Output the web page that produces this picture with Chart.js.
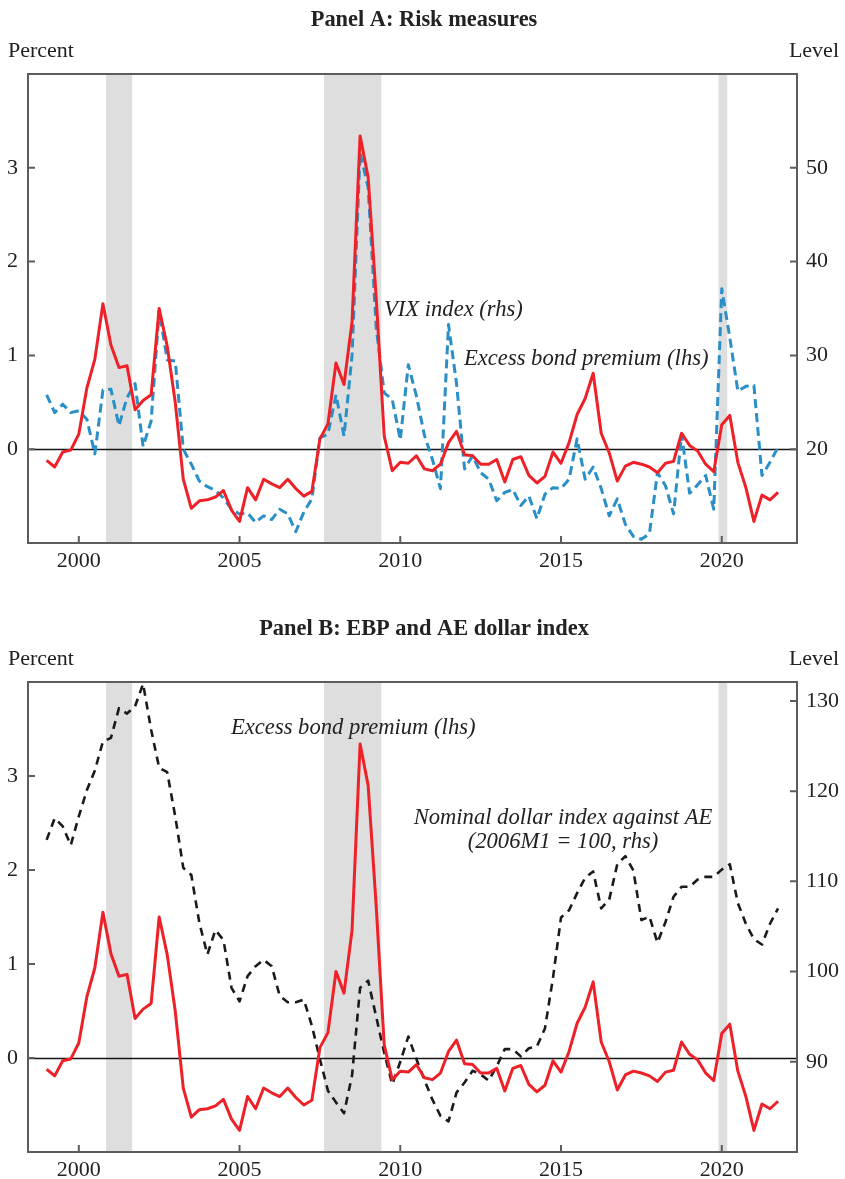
<!DOCTYPE html>
<html>
<head>
<meta charset="utf-8">
<title>Risk measures, EBP and AE dollar index</title>
<script src="https://cdn.jsdelivr.net/npm/chart.js@4.4.1/dist/chart.umd.min.js"></script>
<style>
  html, body { margin: 0; padding: 0; background: #fff; }
  #wrap { position: relative; width: 845px; height: 1179px; overflow: hidden; }
  canvas { position: absolute; left: 0; }
  #panelA { top: 0; }
  #panelB { top: 600px; }
</style>
</head>
<body>
<div id="wrap">
  <canvas id="panelA" width="845" height="590"></canvas>
  <canvas id="panelB" width="845" height="579"></canvas>
</div>
<script>
// ---- Quarterly observations, 1999Q1 to 2021Q4 ----
const firstYear = 1999;
const lastYear = 2021;

// Excess bond premium, percentage points
const ebp = [
  -0.12, -0.19, -0.03, -0.01,
   0.16,  0.65,  0.96,  1.55,
   1.11,  0.87,  0.89,  0.42,
   0.52,  0.58,  1.50,  1.10,
   0.50, -0.32, -0.63, -0.55,
  -0.54, -0.51, -0.44, -0.65,
  -0.77, -0.41, -0.54, -0.32,
  -0.37, -0.41, -0.32, -0.42,
  -0.50, -0.45,  0.11,  0.27,
   0.92,  0.69,  1.36,  3.34,
   2.90,  1.62,  0.14, -0.23,
  -0.14, -0.15, -0.07, -0.21,
  -0.23, -0.16,  0.07,  0.19,
  -0.06, -0.07, -0.16, -0.16,
  -0.11, -0.35, -0.11, -0.08,
  -0.28, -0.36, -0.29, -0.03,
  -0.15,  0.07,  0.37,  0.54,
   0.81,  0.17, -0.04, -0.34,
  -0.18, -0.14, -0.16, -0.19,
  -0.25, -0.15, -0.13,  0.17,
   0.04, -0.02, -0.16, -0.24,
   0.26,  0.36, -0.14, -0.41,
  -0.77, -0.49, -0.54, -0.46
];

// VIX index, level
const vix = [
  25.8, 23.9, 24.8, 23.9,
  24.1, 23.2, 19.5, 26.3,
  26.4, 22.5, 25.5, 27.0,
  20.3, 23.0, 34.8, 29.5,
  29.4, 20.0, 18.4, 16.6,
  16.0, 15.6, 14.8, 13.6,
  13.1, 13.2, 12.2, 12.9,
  12.5, 13.6, 13.1, 11.2,
  13.3, 14.7, 21.2, 21.6,
  25.8, 21.4, 30.0, 51.6,
  47.9, 33.0, 26.0, 25.3,
  21.0, 29.0, 25.7, 21.5,
  18.9, 15.8, 33.3, 27.0,
  17.9, 19.3, 17.5, 16.8,
  14.5, 15.4, 15.7, 14.0,
  15.0, 12.6, 15.2, 15.9,
  15.8, 16.8, 21.1, 16.8,
  18.1, 15.8, 12.9, 14.7,
  12.0, 10.7, 10.4, 11.0,
  17.5, 16.1, 13.1, 21.6,
  15.3, 16.2, 17.2, 13.6,
  37.1, 31.9, 26.2, 26.7,
  26.8, 17.2, 18.6, 20.2
];

// Nominal dollar index against advanced economies, 2006M1 = 100
const dollarAE = [
  114.6, 117.0, 116.1, 114.0,
  117.2, 120.1, 122.3, 125.5,
  125.9, 129.2, 128.6, 129.4,
  131.9, 126.8, 122.6, 122.1,
  117.2, 111.5, 110.7, 105.4,
  101.9, 104.6, 103.5,  98.2,
   96.7,  99.5, 100.6, 101.3,
  100.6,  97.3,  96.6,  96.6,
   96.9,  94.0,  90.3,  86.8,
   85.5,  84.3,  88.5,  98.2,
   99.0,  95.0,  91.0,  87.5,
   90.0,  92.8,  90.3,  88.0,
   85.8,  84.0,  83.4,  86.6,
   87.7,  89.0,  88.6,  87.9,
   89.5,  91.4,  91.4,  90.6,
   91.5,  91.7,  93.7,  99.3,
  106.0, 106.8, 108.7, 110.4,
  111.1, 107.0, 108.0, 111.9,
  112.8, 111.2, 105.7, 106.1,
  103.2, 105.5, 108.3, 109.4,
  109.4, 110.2, 110.5, 110.5,
  111.3, 111.9, 107.6, 105.3,
  103.6, 103.0, 105.3, 107.0
];

// Recession bands, decimal years [start, end]
const recessions = [
  [2000.85, 2001.66],
  [2007.63, 2009.41],
  [2019.90, 2020.17]
];

// Axis ticks
const yearTicks = [2000, 2005, 2010, 2015, 2020];
const pctTicks = [0, 1, 2, 3];
const vixTicks = [20, 30, 40, 50];
const dollarTicks = [90, 100, 110, 120, 130];

// Quarter dates as decimal years (Q1 = year.00, Q2 = year.25, ...)
const quarterDates = [];
for (let y = firstYear; y <= lastYear; y++) {
  for (let q = 0; q < 4; q++) quarterDates.push(y + q / 4);
}
const toPoints = (vals) => vals.map((v, i) => ({ x: quarterDates[i], y: v }));

// ---- Styling ----
const SERIF = "'Liberation Serif', 'Times New Roman', serif";
const RED = '#ee2129';
const BLUE = '#2a8fc6';
const BLACK = '#1a1a1a';
const FRAME = '#5c5c5c';
const SHADE = '#dedede';

// Recession shading, zero line, axis frame and inward tick marks
const framePlugin = {
  id: 'frame',
  beforeDatasetsDraw(chart) {
    const { ctx, chartArea: a, scales } = chart;
    ctx.save();
    ctx.fillStyle = SHADE;
    recessions.forEach(([s, e]) => {
      const x0 = scales.x.getPixelForValue(s);
      const x1 = scales.x.getPixelForValue(e);
      ctx.fillRect(x0, a.top, x1 - x0, a.bottom - a.top);
    });
    const y0 = Math.round(scales.yL.getPixelForValue(0)) + 0.5;
    ctx.strokeStyle = '#151515';
    ctx.lineWidth = 1.3;
    ctx.beginPath();
    ctx.moveTo(a.left, y0);
    ctx.lineTo(a.right, y0);
    ctx.stroke();
    ctx.restore();
  },
  afterDatasetsDraw(chart) {
    const { ctx, chartArea: a, scales } = chart;
    ctx.save();
    ctx.strokeStyle = FRAME;
    ctx.lineWidth = 2;
    ctx.strokeRect(a.left, a.top, a.right - a.left, a.bottom - a.top);
    const tl = 7;
    ctx.beginPath();
    scales.x.ticks.forEach(t => {
      const x = scales.x.getPixelForValue(t.value);
      ctx.moveTo(x, a.bottom);
      ctx.lineTo(x, a.bottom - tl);
    });
    scales.yL.ticks.forEach(t => {
      const y = scales.yL.getPixelForValue(t.value);
      ctx.moveTo(a.left, y);
      ctx.lineTo(a.left + tl, y);
    });
    scales.yR.ticks.forEach(t => {
      const y = scales.yR.getPixelForValue(t.value);
      ctx.moveTo(a.right, y);
      ctx.lineTo(a.right - tl, y);
    });
    ctx.stroke();
    ctx.restore();
  }
};

// Panel title, axis unit captions and series annotations
const textPlugin = {
  id: 'texts',
  afterDraw(chart, args, opts) {
    const { ctx } = chart;
    ctx.save();
    ctx.fillStyle = '#222';
    ctx.textBaseline = 'alphabetic';
    ctx.font = `bold 22.4px ${SERIF}`;
    ctx.textAlign = 'center';
    ctx.fillText(opts.title, 424, opts.titleY);
    ctx.font = `22px ${SERIF}`;
    ctx.textAlign = 'left';
    ctx.fillText('Percent', 8, opts.unitY);
    ctx.textAlign = 'right';
    ctx.fillText('Level', 839, opts.unitY);
    ctx.font = `italic 22.6px ${SERIF}`;
    opts.notes.forEach(n => {
      ctx.textAlign = n.align;
      ctx.fillText(n.text, n.x, n.y);
    });
    ctx.restore();
  }
};

function makeScales(rightMin, rightMax, rightTicks, xAxisHeight) {
  const tickFont = { family: SERIF, size: 22 };
  return {
    x: {
      type: 'linear',
      min: 1998.42,
      max: 2022.34,
      grid: { display: false, drawTicks: false },
      border: { display: false },
      afterBuildTicks: (s) => { s.ticks = yearTicks.map(v => ({ value: v })); },
      afterFit: (s) => { s.height = xAxisHeight; },
      ticks: { font: tickFont, color: '#222', padding: 5, autoSkip: false, maxRotation: 0,
               callback: (v) => String(v) }
    },
    yL: {
      type: 'linear',
      position: 'left',
      min: -1,
      max: 4,
      grid: { display: false, drawTicks: false },
      border: { display: false },
      afterBuildTicks: (s) => { s.ticks = pctTicks.map(v => ({ value: v })); },
      afterFit: (s) => { s.width = 28; },
      ticks: { font: tickFont, color: '#222', padding: 10, callback: (v) => String(v) }
    },
    yR: {
      type: 'linear',
      position: 'right',
      min: rightMin,
      max: rightMax,
      grid: { display: false, drawTicks: false },
      border: { display: false },
      afterBuildTicks: (s) => { s.ticks = rightTicks.map(v => ({ value: v })); },
      afterFit: (s) => { s.width = 48; },
      ticks: { font: tickFont, color: '#222', padding: 9, callback: (v) => String(v) }
    }
  };
}

const lineBase = { pointRadius: 0, pointHoverRadius: 0, tension: 0, fill: false,
                   borderJoinStyle: 'round', borderCapStyle: 'butt' };

// Panel A: Risk measures
new Chart(document.getElementById('panelA'), {
  type: 'line',
  data: {
    datasets: [
      { ...lineBase, label: 'Excess bond premium (lhs)', data: toPoints(ebp), yAxisID: 'yL',
        borderColor: RED, borderWidth: 3 },
      { ...lineBase, label: 'VIX index (rhs)', data: toPoints(vix), yAxisID: 'yR',
        borderColor: BLUE, borderWidth: 3, borderDash: [9, 5] }
    ]
  },
  options: {
    responsive: false,
    animation: false,
    events: [],
    layout: { padding: { top: 74, left: 0, right: 0, bottom: 0 } },
    plugins: {
      legend: { display: false },
      tooltip: { enabled: false },
      texts: {
        title: 'Panel A: Risk measures', titleY: 26, unitY: 57,
        notes: [
          { text: 'VIX index (rhs)', x: 384, y: 316, align: 'left' },
          { text: 'Excess bond premium (lhs)', x: 464, y: 365, align: 'left' }
        ]
      }
    },
    scales: makeScales(10, 60, vixTicks, 47)
  },
  plugins: [framePlugin, textPlugin]
});

// Panel B: EBP and AE dollar index
new Chart(document.getElementById('panelB'), {
  type: 'line',
  data: {
    datasets: [
      { ...lineBase, label: 'Excess bond premium (lhs)', data: toPoints(ebp), yAxisID: 'yL',
        borderColor: RED, borderWidth: 3 },
      { ...lineBase, label: 'Nominal dollar index against AE (2006M1 = 100, rhs)',
        data: toPoints(dollarAE), yAxisID: 'yR',
        borderColor: BLACK, borderWidth: 2.6, borderDash: [8, 6] }
    ]
  },
  options: {
    responsive: false,
    animation: false,
    events: [],
    layout: { padding: { top: 82, left: 0, right: 0, bottom: 0 } },
    plugins: {
      legend: { display: false },
      tooltip: { enabled: false },
      texts: {
        title: 'Panel B: EBP and AE dollar index', titleY: 35, unitY: 65,
        notes: [
          { text: 'Excess bond premium (lhs)', x: 231, y: 134, align: 'left' },
          { text: 'Nominal dollar index against AE', x: 563, y: 224, align: 'center' },
          { text: '(2006M1 = 100, rhs)', x: 563, y: 248, align: 'center' }
        ]
      }
    },
    scales: makeScales(80, 132.1, dollarTicks, 27)
  },
  plugins: [framePlugin, textPlugin]
});
</script>
</body>
</html>
